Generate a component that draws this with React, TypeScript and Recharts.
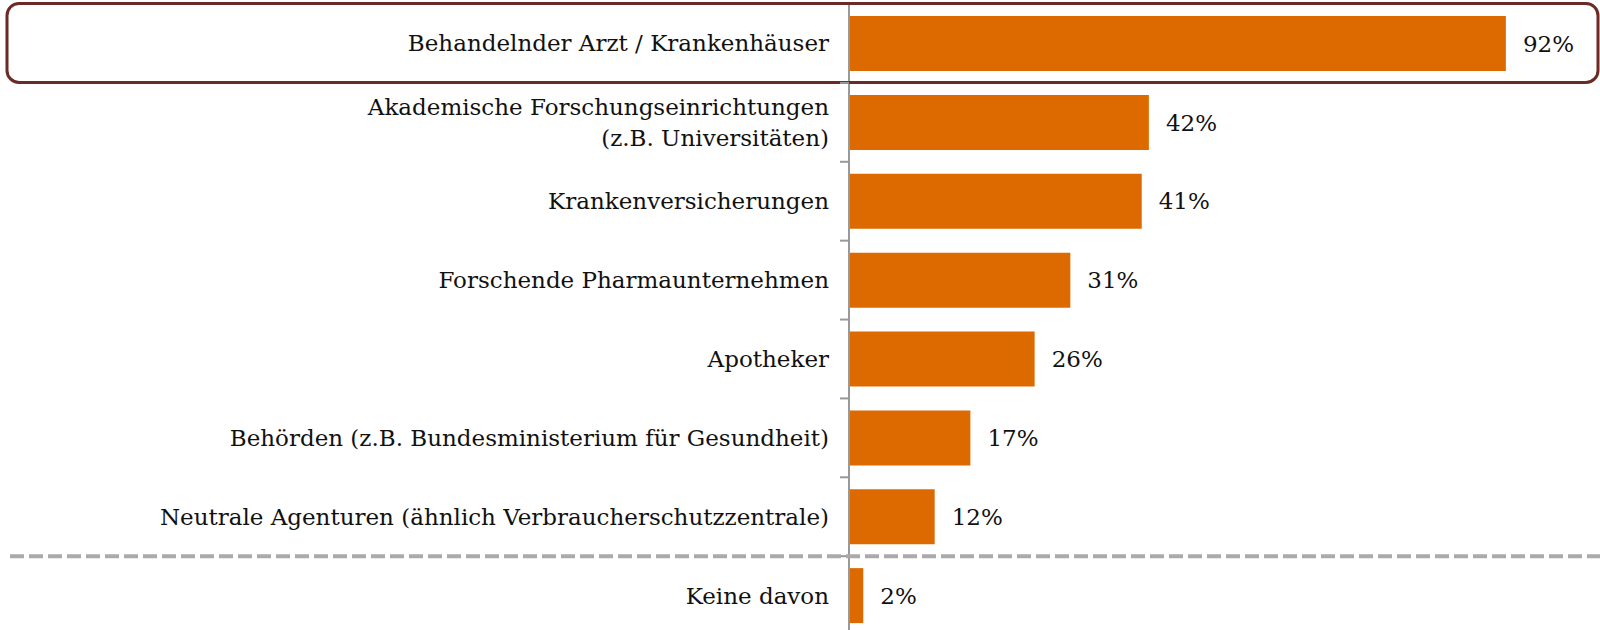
import React from 'react'
import { BarChart, Bar, XAxis, YAxis, LabelList } from 'recharts'

// survey answers, top to bottom
const categories = [
  'Behandelnder Arzt / Krankenhäuser',
  'Akademische Forschungseinrichtungen\n(z.B. Universitäten)',
  'Krankenversicherungen',
  'Forschende Pharmaunternehmen',
  'Apotheker',
  'Behörden (z.B. Bundesministerium für Gesundheit)',
  'Neutrale Agenturen (ähnlich Verbraucherschutzzentrale)',
  'Keine davon',
]
const shares = [92, 42, 41, 31, 26, 17, 12, 2]

const data = categories.map((name, i) => ({ name, value: shares[i] }))

const FONT = '"DejaVu Serif", serif'
const AXIS_X = 849
const HALF_BAND = 39.4
const BAR_COLOR = '#dd6a00'

const CategoryTick = (props: any) => {
  const { y, payload, index } = props
  const lines: string[] = String(payload.value).split('\n')
  const lineGap = 31
  const first = y - ((lines.length - 1) * lineGap) / 2
  return (
    <g>
      {index === 0 && (
        <rect
          x={7}
          y={y - 40}
          width={1591}
          height={79}
          rx={12}
          fill="none"
          stroke="#6b2a25"
          strokeWidth={3}
        />
      )}
      {index > 0 && (
        <line
          x1={AXIS_X - 9}
          x2={AXIS_X}
          y1={y - HALF_BAND}
          y2={y - HALF_BAND}
          stroke="#999"
          strokeWidth={2}
        />
      )}
      {index === categories.length - 1 && (
        <line
          x1={10}
          x2={1600}
          y1={y - HALF_BAND}
          y2={y - HALF_BAND}
          stroke="#aaa"
          strokeWidth={4}
          strokeDasharray="14 5"
        />
      )}
      <text
        x={AXIS_X - 20}
        y={first}
        textAnchor="end"
        fontFamily={FONT}
        fontSize={23}
        fill="#111"
      >
        {lines.map((l, i) => (
          <tspan key={i} x={AXIS_X - 20} y={first + i * lineGap} dy="0.35em">
            {l}
          </tspan>
        ))}
      </text>
    </g>
  )
}

export default function App() {
  return (
    <div style={{ position: 'absolute', left: 0, top: 0 }}>
      <BarChart
        layout="vertical"
        width={1600}
        height={640}
        data={data}
        margin={{ top: 4, right: 37, bottom: 5, left: 0 }}
        barSize={55}
      >
        <XAxis type="number" domain={[0, 100]} hide />
        <YAxis
          type="category"
          dataKey="name"
          width={849}
          axisLine={{ stroke: '#999', strokeWidth: 2 }}
          tickLine={false}
          tick={<CategoryTick />}
          interval={0}
        />
        <Bar dataKey="value" fill={BAR_COLOR} isAnimationActive={false}>
          <LabelList
            dataKey="value"
            position="right"
            offset={17}
            formatter={(v: any) => `${v}%`}
            style={{ fontFamily: FONT, fontSize: 23, fill: '#111' }}
          />
        </Bar>
      </BarChart>
    </div>
  )
}
